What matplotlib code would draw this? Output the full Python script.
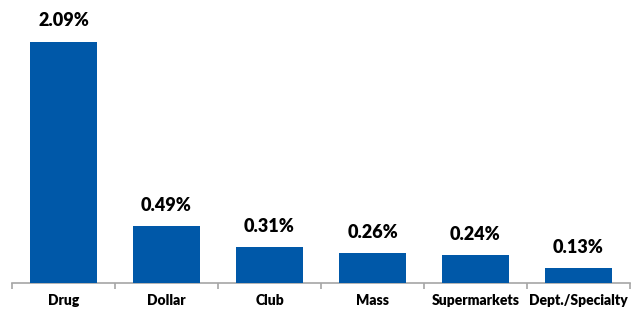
import matplotlib
matplotlib.use('Agg')
import matplotlib.pyplot as plt
import numpy as np

plt.rcParams['font.family'] = ['Lato', 'DejaVu Sans']

# Channel share data
channels = ['Drug', 'Dollar', 'Club', 'Mass', 'Supermarkets', 'Dept./Specialty']
values = [2.09, 0.49, 0.31, 0.26, 0.24, 0.13]
labels = ['2.09%', '0.49%', '0.31%', '0.26%', '0.24%', '0.13%']

fig = plt.figure(figsize=(6.37, 3.12), dpi=100)
ax = fig.add_axes([12 / 637, 29 / 312, 618 / 637, 283 / 312])

x = np.arange(len(channels))
bars = ax.bar(x, values, width=0.65, color='#0058A8', zorder=3)

for xi, v, lab in zip(x, values, labels):
    ax.annotate(lab, (xi, v), xytext=(0, 9), textcoords='offset points',
                ha='center', va='bottom', fontsize=13, fontweight='heavy', color='black')

ax.set_xlim(-0.5, len(channels) - 0.5)
ax.set_ylim(0, 2.09 * 283 / 241)

# axis styling
for s in ['top', 'right', 'left']:
    ax.spines[s].set_visible(False)
ax.spines['bottom'].set_color('#A6A6A6')
ax.spines['bottom'].set_linewidth(1.2)
ax.set_yticks([])

ax.set_xticks(x)
ax.set_xticklabels(channels, fontsize=10, fontweight='heavy')
ax.tick_params(axis='x', which='major', length=0, pad=8)
ax.set_xticks(np.arange(-0.5, len(channels)), minor=True)
ax.tick_params(axis='x', which='minor', length=4, width=1.2, color='#A6A6A6', direction='out')

fig.savefig('out.png', dpi=100)
